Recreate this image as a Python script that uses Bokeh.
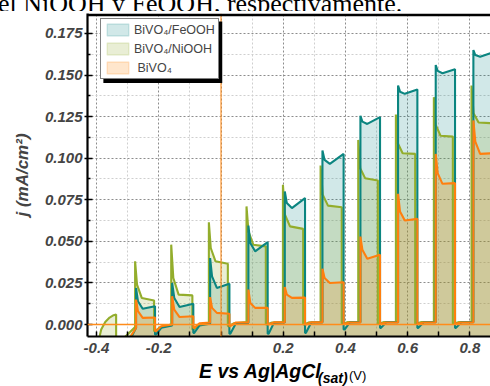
from bokeh.plotting import figure
from bokeh.layouts import column
from bokeh.models import (Range1d, FixedTicker, NumeralTickFormatter, Span, Div,
                          Legend, LegendItem, BoxAnnotation)
from bokeh.embed import file_html
from bokeh.resources import INLINE

# ---------------------------------------------------------------------------
# Chopped-light linear sweeps (current density in mA/cm^2 vs potential in V)
# ---------------------------------------------------------------------------
# light-on / light-off potentials for BiVO4/FeOOH and BiVO4
FE_ON = [-0.273, -0.157, -0.035, 0.088, 0.205, 0.326, 0.448, 0.569, 0.690, 0.811]
FE_OFF = [-0.212, -0.089, 0.027, 0.150, 0.270, 0.394, 0.511, 0.631, 0.752, 0.873]
# BiVO4/NiOOH switches slightly earlier
NI_ON = [-0.276, -0.160, -0.039, 0.082, 0.199, 0.320, 0.441, 0.562, 0.684, 0.805]
NI_OFF = [-0.215, -0.092, 0.022, 0.144, 0.264, 0.388, 0.504, 0.624, 0.745, 0.870]

# BiVO4/FeOOH: transient spike, knee, trough and value at light-off
FE_SPIKE = [0.022, 0.025, 0.040, 0.0595, 0.080, 0.1046, 0.1255, 0.1437, 0.156, 0.165]
FE_KNEE = [0.014, 0.016, 0.029, 0.049, 0.073, 0.0990, 0.1220, 0.1400, 0.1525, 0.1620]
FE_TROUGH = [0.0095, 0.0105, 0.022, 0.044, 0.070, 0.0966, 0.1206, 0.1387, 0.1511, 0.1610]
FE_END = [0.011, 0.0125, 0.0245, 0.0495, 0.076, 0.1026, 0.1247, 0.1413, 0.1535, 0.1635]
# dark current: cathodic dip after light-off, recovery, level before next pulse
FE_PRE = [-0.012, -0.002]
FE_DIP = [-0.006, -0.005, -0.0055, -0.0055, -0.005, -0.003, -0.002, -0.002, -0.002]
FE_REC = [-0.002, -0.0005, 0.0005, 0.001, 0.0012, 0.0013, 0.0014, 0.0014, 0.0014]
FE_DARK = [-0.0005, 0.0005, 0.001, 0.0012, 0.0013, 0.0014, 0.0014, 0.0014, 0.0014]

# BiVO4/NiOOH
NI_SPIKE = [0.038, 0.048, 0.0615, 0.071, 0.084, 0.0956, 0.111, 0.1263, 0.1367, 0.1437]
NI_KNEE = [0.024, 0.028, 0.046, 0.056, 0.066, 0.078, 0.094, 0.109, 0.120, 0.127]
NI_TROUGH = [0.016, 0.018, 0.038, 0.048, 0.059, 0.0715, 0.0880, 0.1030, 0.1135, 0.1215]
NI_END = [0.0145, 0.0175, 0.0365, 0.047, 0.0575, 0.0705, 0.0866, 0.1026, 0.113, 0.121]
# first illuminated window, still at cathodic potentials
NI_ARC_X = [-0.396, -0.385, -0.372, -0.358, -0.345, -0.337]
NI_ARC_Y = [-0.012, -0.003, 0.0015, 0.0042, 0.0056, 0.006]
NI_PRE = [-0.012, -0.0015]
NI_DIP = [-0.004, -0.003, -0.001, 0.0, 0.0, 0.0005, 0.0005, 0.0005, 0.0005]
NI_REC = [-0.0015, -0.0005, 0.0008, 0.0012, 0.0014, 0.0015, 0.0015, 0.0015, 0.0015]
NI_DARK = [0.0, 0.001, 0.0015, 0.0015, 0.0015, 0.0015, 0.0015, 0.0015, 0.0015]

# BiVO4
BI_SPIKE = [0.015, 0.017, 0.0165, 0.021, 0.0225, 0.0335, 0.0529, 0.0786, 0.1026, 0.1227]
BI_KNEE = [0.008, 0.009, 0.010, 0.013, 0.018, 0.028, 0.045, 0.068, 0.091, 0.110]
BI_TROUGH = [0.004, 0.0045, 0.007, 0.010, 0.016, 0.025, 0.0395, 0.0625, 0.0846, 0.1026]
BI_END = [0.0042, 0.005, 0.0065, 0.010, 0.0162, 0.0254, 0.042, 0.0635, 0.085, 0.103]
BI_PRE = [-0.010, -0.002]
BI_DIP = [-0.004, -0.002, -0.001, 0.0, 0.0, 0.0005, 0.0005, 0.0005, 0.0005]
BI_REC = [-0.001, 0.0008, 0.0012, 0.0013, 0.0013, 0.0012, 0.0012, 0.0012, 0.0012]
BI_DARK = [0.0, 0.0012, 0.0013, 0.0013, 0.0013, 0.0012, 0.0012, 0.0012, 0.0012]

X_START = [-0.300, -0.333]          # first visible dark point (FeOOH/BiVO4, NiOOH)

X_TICKS = [-0.4, -0.2, 0.0, 0.2, 0.4, 0.6, 0.8]
X_MINOR = [-0.3, -0.1, 0.1, 0.3, 0.5, 0.7]
Y_TICKS = [0.0, 0.025, 0.05, 0.075, 0.1, 0.125, 0.15, 0.175]
Y_MINOR = [0.0125, 0.0375, 0.0625, 0.0875, 0.1125, 0.1375, 0.1625]

SERIES = ["BiVO\u2084/FeOOH", "BiVO\u2084/NiOOH", " BiVO\u2084"]

X0, X1 = -0.429, 0.866
Y0, Y1 = -0.0072, 0.187
BASE = -0.02  # fills run down past the lower edge of the frame


def trace(on, off, spike, knee, trough, end, pre, dip, rec, dark, x0):
    """Assemble the chopped-light polyline from the per-pulse readings."""
    xs, ys = [x0, on[0]], [pre[0], pre[1]]
    for i in range(len(on)):
        w = off[i] - on[i]
        xs += [on[i], on[i] + 0.1 * w, on[i] + 0.35 * w, off[i]]
        ys += [spike[i], knee[i], trough[i], end[i]]
        if i < len(on) - 1:
            xs += [off[i], off[i] + 0.003, off[i] + 0.02, on[i + 1]]
            ys += [dip[i], dip[i], rec[i], dark[i]]
    return xs, ys


fe_x, fe_y = trace(FE_ON, FE_OFF, FE_SPIKE, FE_KNEE, FE_TROUGH, FE_END,
                   FE_PRE, FE_DIP, FE_REC, FE_DARK, X_START[0])
bi_x, bi_y = trace(FE_ON, FE_OFF, BI_SPIKE, BI_KNEE, BI_TROUGH, BI_END,
                   BI_PRE, BI_DIP, BI_REC, BI_DARK, X_START[0])
ni_x, ni_y = trace(NI_ON, NI_OFF, NI_SPIKE, NI_KNEE, NI_TROUGH, NI_END,
                   NI_PRE, NI_DIP, NI_REC, NI_DARK, X_START[1])
ni_x = NI_ARC_X + [NI_ARC_X[-1]] + ni_x
ni_y = NI_ARC_Y + [NI_PRE[0]] + ni_y

TEAL = "#0b8580"
OLIVE = "#93ad2c"
ORANGE = "#ff7f0e"
FILLS = [("#008080", 0.18), ("#8faa2b", 0.2), ("#ff8000", 0.2)]

FONT = "Liberation Sans"

# caption line of the surrounding page, only its lower part shows
caption = Div(
    text='<div style="margin-top:-15px;margin-left:-2px;white-space:nowrap;'
         'font-family:\'Liberation Serif\';font-size:26px;line-height:26px;'
         'color:black">el NiOOH y FeOOH, respectivamente.</div>',
    width=490, height=11, margin=0,
    styles={"overflow": "hidden"})

p = figure(width=490, height=349, output_backend="svg", toolbar_location=None,
           x_range=Range1d(X0, X1), y_range=Range1d(Y0, Y1),
           min_border_left=87, min_border_right=0, min_border_top=2,
           min_border_bottom=24, margin=0)
p.background_fill_color = "white"
p.border_fill_color = "white"
p.outline_line_color = None

# areas first, then the outlines
fills = [p.varea(x=x, y1=y, y2=[BASE] * len(x), fill_color=c, fill_alpha=a)
         for (x, y), (c, a) in zip([(fe_x, fe_y), (ni_x, ni_y), (bi_x, bi_y)], FILLS)]
p.line(ni_x, ni_y, line_color=OLIVE, line_width=2.1)
p.line(fe_x, fe_y, line_color=TEAL, line_width=2.1)
p.line(bi_x, bi_y, line_color=ORANGE, line_width=2.1)

# zero reference lines
p.add_layout(Span(location=0, dimension="width", line_color="#ff8c1a", line_width=1.3))
p.add_layout(Span(location=0, dimension="height", line_color="#ff8c1a", line_width=1.1))
# top edge of the frame
p.add_layout(Span(location=Y1 - 0.0008, dimension="width", line_color="black", line_width=2.6))

# grid
for g in (p.xgrid, p.ygrid):
    g.grid_line_color = "#8c8c8c"
    g.grid_line_dash = "2 2"
    g.grid_line_width = 1
    g.minor_grid_line_color = "#cfcfcf"
    g.minor_grid_line_dash = "2 2"
    g.minor_grid_line_width = 1
p.xgrid.ticker = FixedTicker(ticks=X_TICKS, minor_ticks=X_MINOR)
p.ygrid.ticker = FixedTicker(ticks=Y_TICKS, minor_ticks=Y_MINOR)

xa = p.xaxis[0]
xa.ticker = FixedTicker(ticks=X_TICKS, minor_ticks=X_MINOR)
xa.formatter = NumeralTickFormatter(format="0.0")
xa.major_label_overrides = {0: ""}
xa.axis_line_width = 2.2
xa.major_tick_in = 5
xa.major_tick_out = 0
xa.minor_tick_in = 5
xa.minor_tick_out = 0
xa.major_tick_line_width = 1.5
xa.minor_tick_line_width = 1.5
xa.major_label_text_font = FONT
xa.major_label_text_font_style = "bold italic"
xa.major_label_text_font_size = "15px"
xa.major_label_standoff = 6

ya = p.yaxis[0]
ya.ticker = FixedTicker(ticks=Y_TICKS, minor_ticks=Y_MINOR)
ya.formatter = NumeralTickFormatter(format="0.000")
ya.axis_line_width = 2.2
ya.major_tick_in = 5
ya.major_tick_out = 3
ya.minor_tick_in = 3
ya.minor_tick_out = 0
ya.major_tick_line_width = 1.5
ya.minor_tick_line_width = 1.5
ya.major_label_text_font = FONT
ya.major_label_text_font_style = "bold italic"
ya.major_label_text_font_size = "15px"
ya.major_label_standoff = 2
ya.axis_label = "j (mA/cm\u00b2)"
ya.axis_label_text_font = FONT
ya.axis_label_text_font_style = "bold italic"
ya.axis_label_text_font_size = "17px"
ya.axis_label_standoff = 10

# legend with a drop shadow; swatches come from quads kept outside the view
p.add_layout(BoxAnnotation(left=-0.378, right=0.004, top=0.1822, bottom=0.1452,
                           fill_color="black", fill_alpha=1, line_color=None))
swatches = [p.quad(left=[X1 + 1], right=[X1 + 2], top=[Y1 + 2], bottom=[Y1 + 1],
                   fill_color=c, fill_alpha=a, line_color=c, line_alpha=a * 0.9,
                   line_width=1.5)
            for c, a in FILLS]
legend = Legend(items=[LegendItem(label=s, renderers=[r]) for s, r in zip(SERIES, swatches)],
                location=(13, 257))
legend.label_text_font = FONT
legend.label_text_font_size = "12.5px"
legend.label_standoff = 3
legend.glyph_width = 27
legend.glyph_height = 15
legend.label_height = 15
legend.spacing = 4
legend.padding = 3
legend.margin = 0
legend.border_line_color = "black"
legend.border_line_width = 1.2
legend.background_fill_color = "white"
legend.background_fill_alpha = 1
p.add_layout(legend)

# x-axis title: bold italic potential, subscripted reference state, plain unit
base = "position:absolute;white-space:nowrap;font-family:'Liberation Sans';color:black;"
xtitle = Div(
    text='<div style="position:relative;width:490px;height:26px;">'
         f'<span style="{base}left:199px;top:1.5px;font-size:19.5px;line-height:19.5px;'
         'font-weight:bold;font-style:italic;">E vs Ag|AgCl</span>'
         f'<span style="{base}left:318px;top:11px;font-size:14px;line-height:14px;'
         'font-weight:bold;font-style:italic;">(sat)</span>'
         f'<span style="{base}left:349px;top:9px;font-size:13px;line-height:13px;">(V)</span>'
         '</div>',
    width=490, height=26, margin=0)

page = column(caption, p, xtitle, spacing=0, margin=0)
open("out.html", "w").write(file_html(page, INLINE))
